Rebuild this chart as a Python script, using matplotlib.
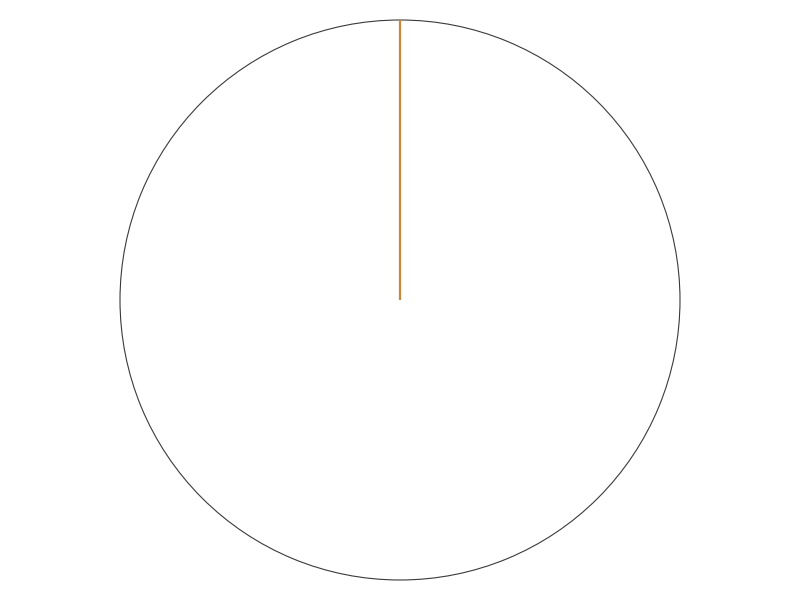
import matplotlib
matplotlib.use("Agg")
from matplotlib import pyplot as plt

labels = ["A", "B"]
values = [100, 0]
face_colors = ["white", "white"]
edge_colors = ["#3a3a3a", "#c8873a"]

fig = plt.figure(figsize=(8, 6), dpi=100)
ax = fig.add_axes([0, 0, 1, 1])

wedges, _ = ax.pie(values, colors=face_colors, startangle=90, counterclock=False)
for w, ec in zip(wedges, edge_colors):
    w.set_edgecolor(ec)
    w.set_linewidth(0.8 if ec == "#3a3a3a" else 1.6)

ax.set_aspect("equal")
ax.set_xlim(-400 / 280, 400 / 280)
ax.set_ylim(-300 / 280, 300 / 280)
ax.axis("off")

fig.savefig("out.png", dpi=100)
